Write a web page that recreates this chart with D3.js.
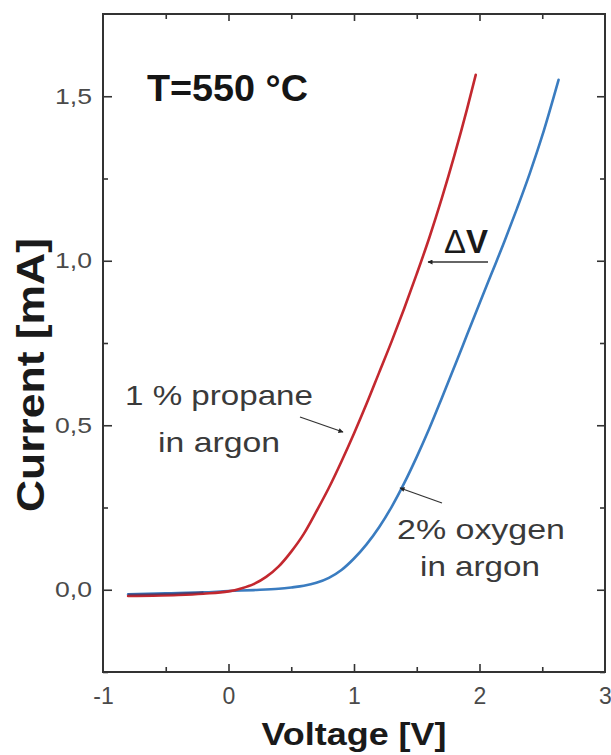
<!DOCTYPE html>
<html>
<head>
<meta charset="utf-8">
<script src="https://cdn.jsdelivr.net/npm/d3@7"></script>
<style>
  html, body { margin: 0; padding: 0; background: #fff; }
  svg { display: block; font-family: "Liberation Sans", Arial, Helvetica, sans-serif; }
</style>
</head>
<body>
<svg id="chart" width="611" height="755"></svg>
<script>
// ---- data ----
const propaneV = [-0.8, -0.6, -0.4, -0.2, 0.0, 0.1, 0.2, 0.3, 0.4, 0.5, 0.6, 0.7, 0.8, 0.9, 1.0, 1.1, 1.2, 1.3, 1.4, 1.5, 1.6, 1.7, 1.8, 1.9, 1.97];
const propaneI = [-0.019, -0.018, -0.016, -0.012, -0.005, 0.004, 0.017, 0.039, 0.071, 0.116, 0.17, 0.238, 0.31, 0.39, 0.475, 0.565, 0.66, 0.755, 0.855, 0.96, 1.07, 1.19, 1.32, 1.46, 1.565];
const oxygenV = [-0.8, -0.5, -0.2, 0.0, 0.2, 0.4, 0.5, 0.6, 0.7, 0.8, 0.9, 1.0, 1.1, 1.2, 1.3, 1.4, 1.5, 1.6, 1.7, 1.8, 1.9, 2.0, 2.1, 2.2, 2.3, 2.4, 2.5, 2.63];
const oxygenI = [-0.014, -0.011, -0.008, -0.004, -0.001, 0.003, 0.007, 0.012, 0.021, 0.036, 0.06, 0.095, 0.138, 0.19, 0.252, 0.324, 0.404, 0.49, 0.583, 0.678, 0.774, 0.87, 0.965, 1.06, 1.16, 1.265, 1.38, 1.55];
const xTicks = [-1, 0, 1, 2, 3];
const xTickLabels = ["-1", "0", "1", "2", "3"];
const yTicks = [0.0, 0.5, 1.0, 1.5];
const yTickLabels = ["0,0", "0,5", "1,0", "1,5"];
const xMinor = [-0.5, 0.5, 1.5, 2.5];
const yMinor = [-0.25, 0.25, 0.75, 1.25];

// ---- layout ----
const L = 103, R = 605, T = 14, B = 672;
const x = d3.scaleLinear().domain([-1, 3]).range([L, R]);
const y = d3.scaleLinear().domain([-0.25, 1.75]).range([B, T]);

const svg = d3.select("#chart");
const axisColor = "#333";
const labelColor = "#4a4a4a";

// frame
svg.append("rect").attr("x", L).attr("y", T).attr("width", R - L).attr("height", B - T)
  .attr("fill", "none").attr("stroke", axisColor).attr("stroke-width", 2);

function styleAxis(g) {
  g.select(".domain").remove();
  g.selectAll(".tick line").attr("stroke", axisColor).attr("stroke-width", 1.6);
}
const inner = xTicks.filter(d => d > -1 && d < 3);

const axBottom = svg.append("g").attr("transform", `translate(0,${B})`)
  .call(d3.axisBottom(x).tickValues(xTicks).tickSizeInner(-8).tickSizeOuter(0)
    .tickFormat((d, i) => xTickLabels[i]).tickPadding(16));
styleAxis(axBottom);
axBottom.selectAll(".tick").filter(d => d === -1 || d === 3).select("line").remove();
axBottom.selectAll(".tick text").attr("font-size", 23).attr("fill", labelColor)
  .attr("font-family", "'Liberation Sans', Arial, sans-serif");
const axBottomMinor = svg.append("g").attr("transform", `translate(0,${B})`)
  .call(d3.axisBottom(x).tickValues(xMinor).tickSizeInner(-5).tickSizeOuter(0).tickFormat(""));
styleAxis(axBottomMinor);

const axTop = svg.append("g").attr("transform", `translate(0,${T})`)
  .call(d3.axisTop(x).tickValues(inner).tickSizeInner(-7).tickSizeOuter(0).tickFormat(""));
styleAxis(axTop);
const axTopMinor = svg.append("g").attr("transform", `translate(0,${T})`)
  .call(d3.axisTop(x).tickValues(xMinor).tickSizeInner(-5).tickSizeOuter(0).tickFormat(""));
styleAxis(axTopMinor);

const axLeft = svg.append("g").attr("transform", `translate(${L},0)`)
  .call(d3.axisLeft(y).tickValues(yTicks).tickSizeInner(-9).tickSizeOuter(0)
    .tickFormat((d, i) => yTickLabels[i]).tickPadding(11));
styleAxis(axLeft);
axLeft.selectAll(".tick text").attr("font-size", 22).attr("fill", labelColor)
  .attr("font-family", "'Liberation Sans', Arial, sans-serif")
  .attr("textLength", 37).attr("lengthAdjust", "spacingAndGlyphs");
const axLeftMinor = svg.append("g").attr("transform", `translate(${L},0)`)
  .call(d3.axisLeft(y).tickValues(yMinor).tickSizeInner(-5).tickSizeOuter(0).tickFormat(""));
styleAxis(axLeftMinor);

const axRight = svg.append("g").attr("transform", `translate(${R},0)`)
  .call(d3.axisRight(y).tickValues(yTicks).tickSizeInner(-8).tickSizeOuter(0).tickFormat(""));
styleAxis(axRight);
const axRightMinor = svg.append("g").attr("transform", `translate(${R},0)`)
  .call(d3.axisRight(y).tickValues(yMinor).tickSizeInner(-5).tickSizeOuter(0).tickFormat(""));
styleAxis(axRightMinor);

// axis titles
svg.append("text").attr("x", x(1)).attr("y", 745).attr("text-anchor", "middle")
  .attr("font-size", 32).attr("font-weight", "bold").attr("fill", "#1a1a1a")
  .attr("textLength", 185).attr("lengthAdjust", "spacingAndGlyphs")
  .text("Voltage [V]");
svg.append("text").attr("transform", `translate(44,${(237 + 513) / 2}) rotate(-90)`)
  .attr("text-anchor", "middle")
  .attr("font-size", 38).attr("font-weight", "bold").attr("fill", "#1a1a1a")
  .attr("textLength", 274).attr("lengthAdjust", "spacingAndGlyphs")
  .text("Current [mA]");

// curves
const line = d3.line().x(d => x(d[0])).y(d => y(d[1])).curve(d3.curveMonotoneX);
const oxy = oxygenV.map((v, i) => [v, oxygenI[i]]);
const prop = propaneV.map((v, i) => [v, propaneI[i]]);
svg.append("path").datum(oxy).attr("d", line).attr("fill", "none")
  .attr("stroke", "#3a7cc0").attr("stroke-width", 2.6).attr("stroke-linecap", "round");
svg.append("path").datum(prop).attr("d", line).attr("fill", "none")
  .attr("stroke", "#c3282f").attr("stroke-width", 2.6).attr("stroke-linecap", "round");
svg.append("path").datum(prop.filter(d => d[0] <= -0.1)).attr("d", line).attr("fill", "none")
  .attr("stroke", "#4a2a55").attr("stroke-width", 2).attr("stroke-opacity", 0.6)
  .attr("transform", "translate(0,-1.5)");

// annotations
svg.append("text").attr("x", 147).attr("y", 101)
  .attr("font-size", 36).attr("font-weight", "bold").attr("fill", "#151515")
  .attr("textLength", 161).attr("lengthAdjust", "spacingAndGlyphs")
  .text("T=550 °C");

const ann = svg.append("g").attr("fill", "#3a3a3a").attr("font-size", 28);
ann.append("text").attr("x", 125).attr("y", 405)
  .attr("textLength", 188).attr("lengthAdjust", "spacingAndGlyphs").text("1 % propane");
ann.append("text").attr("x", 158).attr("y", 452)
  .attr("textLength", 122).attr("lengthAdjust", "spacingAndGlyphs").text("in argon");
ann.append("text").attr("x", 397).attr("y", 539)
  .attr("textLength", 168).attr("lengthAdjust", "spacingAndGlyphs").text("2% oxygen");
ann.append("text").attr("x", 420).attr("y", 576)
  .attr("textLength", 120).attr("lengthAdjust", "spacingAndGlyphs").text("in argon");

// arrows
const defs = svg.append("defs");
defs.append("marker").attr("id", "ah").attr("viewBox", "0 0 10 10").attr("refX", 9).attr("refY", 5)
  .attr("markerWidth", 7).attr("markerHeight", 5).attr("markerUnits", "userSpaceOnUse")
  .attr("orient", "auto")
  .append("path").attr("d", "M0,0 L10,5 L0,10 Z").attr("fill", "#222");

function arrow(x1, y1, x2, y2, w) {
  svg.append("line").attr("x1", x1).attr("y1", y1).attr("x2", x2).attr("y2", y2)
    .attr("stroke", "#333").attr("stroke-width", w).attr("marker-end", "url(#ah)");
}
arrow(300, 417, 343, 432, 1.3);
arrow(442, 503, 400, 488, 1.3);
arrow(488, 262, 428, 262, 1.6);

const dv = svg.append("text").attr("x", 444).attr("y", 253).attr("font-size", 33).attr("fill", "#1a1a1a");
dv.append("tspan").attr("font-weight", "normal").text("Δ");
dv.append("tspan").attr("font-weight", "bold").text("V");
</script>
</body>
</html>
